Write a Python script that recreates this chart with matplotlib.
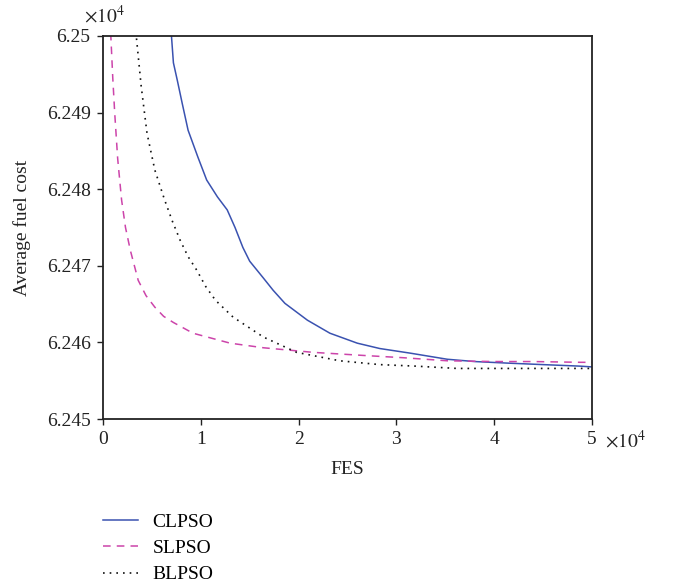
import matplotlib.pyplot as plt

plt.rcParams['font.family'] = ['Liberation Serif', 'DejaVu Serif']

# FES (x) and average fuel cost (y)
clpso_fes = [6800, 7000, 7200, 7600, 8100, 8700, 9700, 10600, 11700, 12700, 13500, 14300,
             15000, 15700, 16400, 17400, 18600, 20900, 23200, 26000, 28300, 31400, 35200,
             38000, 41300, 45000, 48800, 50000]
clpso_cost = [62502.0, 62500.0, 62496.5, 62494.2, 62491.2, 62487.7, 62484.2, 62481.2, 62479.0,
              62477.3, 62475.0, 62472.4, 62470.6, 62469.5, 62468.4, 62466.8, 62465.1, 62462.9,
              62461.2, 62459.9, 62459.2, 62458.6, 62457.8, 62457.5, 62457.3, 62457.1,
              62456.9, 62456.8]

slpso_fes = [600, 800, 1000, 1200, 1500, 1900, 2300, 2800, 3600, 4400, 5300, 6200, 7200,
             9200, 13000, 16400, 21500, 26600, 30700, 35200, 40000, 44000, 48800, 50000]
slpso_cost = [62504.0, 62500.0, 62494.5, 62489.9, 62484.0, 62478.6, 62475.0, 62472.0, 62468.1,
              62466.1, 62464.6, 62463.4, 62462.6, 62461.2, 62459.9, 62459.3, 62458.7, 62458.3,
              62458.0, 62457.6, 62457.5, 62457.5, 62457.4, 62457.4]

blpso_fes = [3000, 3400, 3900, 4500, 5300, 6300, 7100, 7900, 8700, 9600, 10500, 11500,
             13300, 16400, 19800, 24200, 28300, 32000, 36200, 40000, 45000, 50000]
blpso_cost = [62504.0, 62500.0, 62493.5, 62487.3, 62482.5, 62478.6, 62475.8, 62473.3, 62471.2,
              62469.4, 62467.3, 62465.5, 62463.3, 62460.7, 62458.7, 62457.6, 62457.1,
              62456.9, 62456.6, 62456.6, 62456.6, 62456.6]

fig = plt.figure(figsize=(6.74, 5.85), dpi=100)
ax = fig.add_axes([103 / 674, 1 - 419 / 585, (592 - 103) / 674, (419 - 36) / 585])

scale = 1e4
l1, = ax.plot([v / scale for v in clpso_fes], [v / scale for v in clpso_cost],
              color='#3a52b0', lw=1.1, label='CLPSO')
l2, = ax.plot([v / scale for v in slpso_fes], [v / scale for v in slpso_cost],
              color='#cc44aa', lw=1.1, ls=(0, (5, 4)), label='SLPSO')
l3, = ax.plot([v / scale for v in blpso_fes], [v / scale for v in blpso_cost],
              color='#111111', lw=1.2, ls=(0, (1, 3)), label='BLPSO')

ax.set_xlim(0, 5)
ax.set_ylim(6.245, 6.25)
ax.set_xticks([0, 1, 2, 3, 4, 5])
ax.set_xticklabels(['0', '1', '2', '3', '4', '5'])
ax.set_yticks([6.245, 6.246, 6.247, 6.248, 6.249, 6.25])
ax.set_yticklabels(['6.245', '6.246', '6.247', '6.248', '6.249', '6.25'])
ax.tick_params(labelsize=14, length=4, width=1, colors='#222222', pad=5)
for s in ax.spines.values():
    s.set_linewidth(1.3)
    s.set_color('#222222')

ax.set_xlabel('FES', fontsize=14, labelpad=9, color='#222222')
ax.set_ylabel('Average fuel cost', fontsize=14, labelpad=11, color='#222222')

fig.text(84 / 674, 1 - 16 / 585, r'$\times 10^4$', fontsize=14, va='center',
         ha='left', color='#222222', math_fontfamily='stix')
fig.text(605 / 674, 1 - 441 / 585, r'$\times 10^4$', fontsize=14, va='center',
         ha='left', color='#222222', math_fontfamily='stix')

fig.legend(handles=[l1, l2, l3], loc='upper left', bbox_to_anchor=(103 / 674, 1 - 513 / 585),
           frameon=False, fontsize=14, borderpad=0, borderaxespad=0,
           handlelength=1.8, handletextpad=0.75, labelspacing=0.45)

fig.savefig('out.png', dpi=100)
